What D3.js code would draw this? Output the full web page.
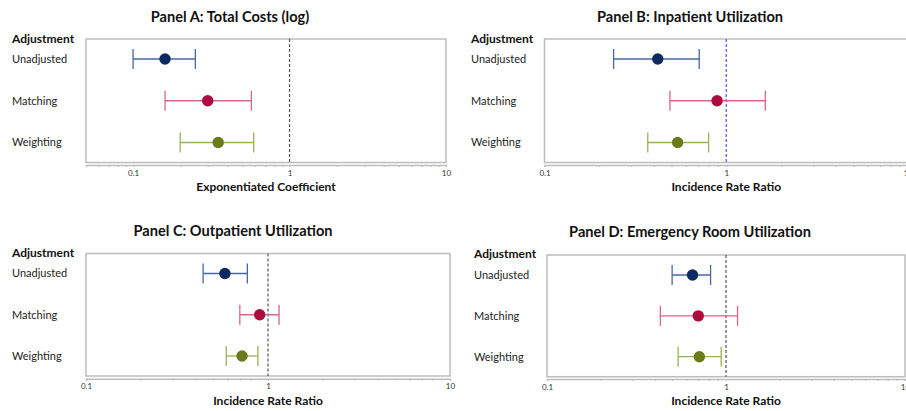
<!DOCTYPE html>
<html>
<head>
<meta charset="utf-8">
<script src="https://cdn.jsdelivr.net/npm/d3@7"></script>
<style>
  html, body { margin: 0; padding: 0; background: #fff; }
  svg { display: block; }
  text { font-family: Lato, "Open Sans", sans-serif; }
</style>
</head>
<body>
<svg id="chart" width="906" height="411"></svg>
<script>
// ---- Data ----
const rows = ["Unadjusted", "Matching", "Weighting"];
const panelTitles = ["Panel A: Total Costs (log)", "Panel B: Inpatient Utilization",
                     "Panel C: Outpatient Utilization", "Panel D: Emergency Room Utilization"];
const axisTitles = ["Exponentiated Coefficient", "Incidence Rate Ratio",
                    "Incidence Rate Ratio", "Incidence Rate Ratio"];
const groupHeader = "Adjustment";
const tickValues = [0.1, 1, 10];
const tickLabels = ["0.1", "1", "10"];

// estimates [Unadjusted, Matching, Weighting]
const estA = [0.16, 0.30, 0.35];
const lowA = [0.10, 0.16, 0.20];
const highA = [0.25, 0.57, 0.59];

const estB = [0.42, 0.89, 0.54];
const lowB = [0.24, 0.49, 0.37];
const highB = [0.71, 1.64, 0.80];

const estC = [0.58, 0.90, 0.72];
const lowC = [0.44, 0.70, 0.59];
const highC = [0.77, 1.15, 0.88];

const estD = [0.65, 0.70, 0.71];
const lowD = [0.50, 0.43, 0.54];
const highD = [0.82, 1.16, 0.94];

const domains = [[0.05, 10], [0.1, 10], [0.1, 10], [0.1, 10]];

// ---- Layout / style ----
const lineColors = ["#4a67a3", "#d6668a", "#9bb255"];
const dotColors = ["#0b2b60", "#ad0a3e", "#6a7a1c"];
const refColors = ["#555", "#4a5cff", "#555", "#555"];

const layouts = [
  { x0: 86, x1: 446, y0: 39, y1: 162.5, labX: 12, headY: 43, titleX: 230, titleY: 22, axY: 165, axTitleY: 191 },
  { x0: 544.5, x1: 908, y0: 39, y1: 162.5, labX: 471, headY: 43, titleX: 690, titleY: 22, axY: 165, axTitleY: 191 },
  { x0: 86, x1: 450, y0: 253.5, y1: 376, labX: 12, headY: 257, titleX: 233, titleY: 236, axY: 378.7, axTitleY: 405 },
  { x0: 547, x1: 905, y0: 255, y1: 376.7, labX: 474, headY: 258, titleX: 690, titleY: 237, axY: 379, axTitleY: 405 }
];

const panels = [
  { est: estA, low: lowA, high: highA },
  { est: estB, low: lowB, high: highB },
  { est: estC, low: lowC, high: highC },
  { est: estD, low: lowD, high: highD }
];

const svg = d3.select("#chart");

panels.forEach((p, i) => {
  const L = layouts[i];
  const g = svg.append("g");
  const x = d3.scaleLog().domain(domains[i]).range([L.x0, L.x1]);
  const y = d3.scalePoint().domain(rows).range([L.y0 + 20, L.y1 - 20]);

  // title
  g.append("text").attr("x", L.titleX).attr("y", L.titleY)
    .attr("text-anchor", "middle").attr("font-size", 14.6).attr("font-weight", 700)
    .attr("fill", "#111").text(panelTitles[i]);

  // header
  g.append("text").attr("x", L.labX).attr("y", L.headY)
    .attr("font-size", 12).attr("font-weight", 700).attr("fill", "#111").text(groupHeader);

  // row labels
  g.selectAll(".rl").data(rows).join("text")
    .attr("x", L.labX).attr("y", d => y(d)).attr("dy", "0.35em")
    .attr("font-size", 11).attr("fill", "#222").text(d => d);

  // plot box
  g.append("rect").attr("x", L.x0).attr("y", L.y0)
    .attr("width", L.x1 - L.x0).attr("height", L.y1 - L.y0)
    .attr("fill", "none").attr("stroke", "#bdbdbd").attr("stroke-width", 1.5);

  // axis with minor ticks
  const [d0, d1] = domains[i];
  const minor = [];
  for (let e = -2; e <= 1; e++) {
    for (let m = 1; m <= 9; m++) {
      const v = m * Math.pow(10, e);
      if (v >= d0 - 1e-9 && v <= d1 + 1e-9) minor.push(v);
    }
  }
  const axis = d3.axisBottom(x).tickValues(minor).tickSize(2)
    .tickFormat(v => { const k = tickValues.findIndex(t => Math.abs(t - v) < 1e-9); return k >= 0 ? tickLabels[k] : ""; });
  const ax = g.append("g").attr("transform", `translate(0,${L.axY})`).call(axis);
  ax.select(".domain").attr("stroke", "#bdbdbd").attr("stroke-width", 1.5);
  ax.selectAll(".tick line").attr("stroke", "#bbb");
  ax.selectAll(".tick text").attr("font-size", 8).attr("fill", "#333").attr("y", 5)
    .attr("font-family", "Lato, sans-serif");

  // axis title
  g.append("text").attr("x", (L.x0 + L.x1) / 2).attr("y", L.axTitleY)
    .attr("text-anchor", "middle").attr("font-size", 12).attr("font-weight", 700)
    .attr("fill", "#111").text(axisTitles[i]);

  // reference line
  g.append("line").attr("x1", x(1)).attr("x2", x(1)).attr("y1", L.y0).attr("y2", L.y1)
    .attr("stroke", refColors[i]).attr("stroke-width", 1.2).attr("stroke-dasharray", "3,2");

  // error bars
  rows.forEach((r, k) => {
    const yy = y(r);
    const eg = g.append("g");
    eg.append("line").attr("x1", x(p.low[k])).attr("x2", x(p.high[k])).attr("y1", yy).attr("y2", yy)
      .attr("stroke", lineColors[k]).attr("stroke-width", 1.3);
    [p.low[k], p.high[k]].forEach(v => {
      eg.append("line").attr("x1", x(v)).attr("x2", x(v)).attr("y1", yy - 10).attr("y2", yy + 10)
        .attr("stroke", lineColors[k]).attr("stroke-width", 1.3);
    });
    eg.append("circle").attr("cx", x(p.est[k])).attr("cy", yy).attr("r", 5.7).attr("fill", dotColors[k]);
  });
});
</script>
</body>
</html>
